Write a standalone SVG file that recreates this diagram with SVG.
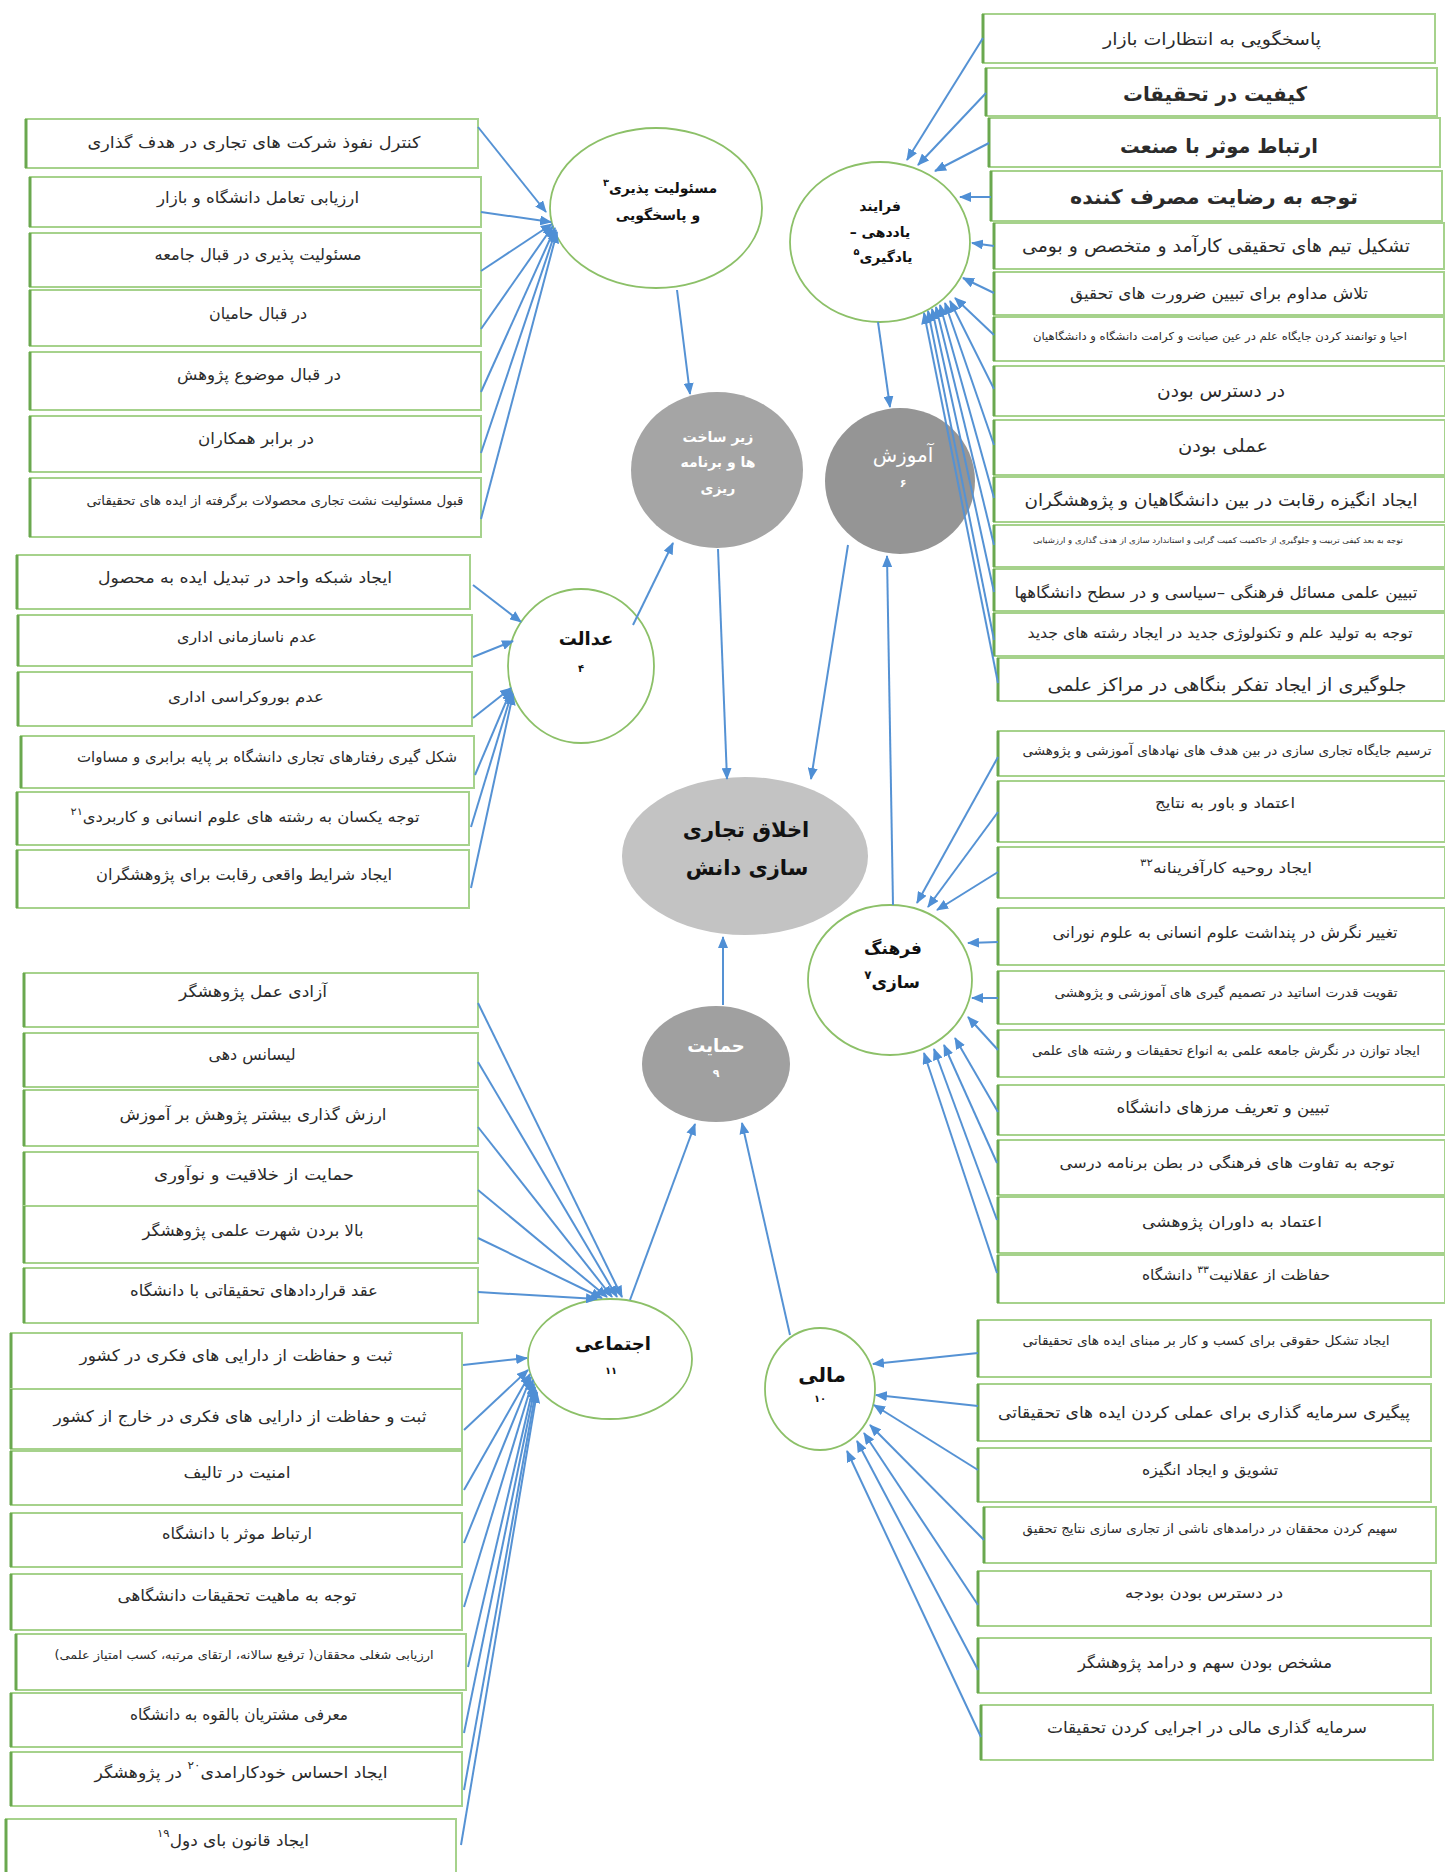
<svg xmlns="http://www.w3.org/2000/svg" width="1445" height="1872" viewBox="0 0 1445 1872">
<defs>
<marker id="ah" markerUnits="userSpaceOnUse" markerWidth="12" markerHeight="10" refX="11" refY="5" orient="auto"><path d="M0,0 L12,5 L0,10 z" fill="#4f8fd5"/></marker>
<style>
.box{fill:#fff;stroke:#a6d28c;stroke-width:2}
.lb{stroke:#6aa84f;stroke-width:3}
.t{font-family:"DejaVu Sans",sans-serif;fill:#2b2b2b;text-anchor:middle;dominant-baseline:central;direction:rtl}
.n{font-family:"DejaVu Sans",sans-serif;fill:#111;text-anchor:middle;dominant-baseline:central;direction:rtl;font-weight:bold}
.w{fill:#fff}
.wc{fill:#fff;stroke:#8cc068;stroke-width:1.8}
.sup{font-size:70%;baseline-shift:super}
#conn line{stroke:#5592d4;stroke-width:2;marker-end:url(#ah)}
</style>
</defs>
<rect width="1445" height="1872" fill="#fff"/>

<!-- left top group -->
<g id="b1"><rect class="box" x="26" y="119" width="452" height="49"/><line class="lb" x1="26" y1="119" x2="26" y2="168"/><text class="t" x="254" y="142" font-size="16" textLength="333" lengthAdjust="spacingAndGlyphs">کنترل نفوذ شرکت های تجاری در هدف گذاری</text></g>
<g id="b2"><rect class="box" x="30" y="177" width="451" height="50"/><line class="lb" x1="30" y1="177" x2="30" y2="227"/><text class="t" x="258" y="197" font-size="16" textLength="202" lengthAdjust="spacingAndGlyphs">ارزیابی تعامل دانشگاه و بازار</text></g>
<g id="b3"><rect class="box" x="30" y="233" width="451" height="54"/><line class="lb" x1="30" y1="233" x2="30" y2="287"/><text class="t" x="258" y="254" font-size="16" textLength="207" lengthAdjust="spacingAndGlyphs">مسئولیت پذیری در قبال جامعه</text></g>
<g id="b4"><rect class="box" x="30" y="290" width="451" height="56"/><line class="lb" x1="30" y1="290" x2="30" y2="346"/><text class="t" x="258" y="313" font-size="16" textLength="98" lengthAdjust="spacingAndGlyphs">در قبال حامیان</text></g>
<g id="b5"><rect class="box" x="30" y="352" width="451" height="58"/><line class="lb" x1="30" y1="352" x2="30" y2="410"/><text class="t" x="259" y="374" font-size="16" textLength="164" lengthAdjust="spacingAndGlyphs">در قبال موضوع پژوهش</text></g>
<g id="b6"><rect class="box" x="30" y="416" width="451" height="56"/><line class="lb" x1="30" y1="416" x2="30" y2="472"/><text class="t" x="256" y="438" font-size="16" textLength="116" lengthAdjust="spacingAndGlyphs">در برابر همکاران</text></g>
<g id="b7"><rect class="box" x="30" y="478" width="451" height="59"/><line class="lb" x1="30" y1="478" x2="30" y2="537"/><text class="t" x="275" y="500" font-size="13" textLength="377" lengthAdjust="spacingAndGlyphs">قبول مسئولیت نشت تجاری محصولات برگرفته از ایده های تحقیقاتی</text></g>

<!-- left middle group -->
<g id="j1"><rect class="box" x="17" y="555" width="453" height="54"/><line class="lb" x1="17" y1="555" x2="17" y2="609"/><text class="t" x="245" y="577" font-size="16" textLength="294" lengthAdjust="spacingAndGlyphs">ایجاد شبکه واحد در تبدیل ایده به محصول</text></g>
<g id="j2"><rect class="box" x="18" y="615" width="454" height="51"/><line class="lb" x1="18" y1="615" x2="18" y2="666"/><text class="t" x="247" y="637" font-size="15" textLength="140" lengthAdjust="spacingAndGlyphs">عدم ناسازمانی اداری</text></g>
<g id="j3"><rect class="box" x="18" y="672" width="454" height="54"/><line class="lb" x1="18" y1="672" x2="18" y2="726"/><text class="t" x="246" y="697" font-size="15" textLength="156" lengthAdjust="spacingAndGlyphs">عدم بوروکراسی اداری</text></g>
<g id="j4"><rect class="box" x="21" y="736" width="453" height="52"/><line class="lb" x1="21" y1="736" x2="21" y2="788"/><text class="t" x="267" y="757" font-size="15" textLength="380" lengthAdjust="spacingAndGlyphs">شکل گیری رفتارهای تجاری دانشگاه بر پایه برابری و مساوات</text></g>
<g id="j5"><rect class="box" x="17" y="792" width="452" height="53"/><line class="lb" x1="17" y1="792" x2="17" y2="845"/><text class="t" x="245" y="817" font-size="15" textLength="349" lengthAdjust="spacingAndGlyphs">توجه یکسان به رشته های علوم انسانی و کاربردی<tspan class="sup">۲۱</tspan></text></g>
<g id="j6"><rect class="box" x="17" y="850" width="452" height="58"/><line class="lb" x1="17" y1="850" x2="17" y2="908"/><text class="t" x="244" y="874" font-size="16" textLength="296" lengthAdjust="spacingAndGlyphs">ایجاد شرایط واقعی رقابت برای پژوهشگران</text></g>

<!-- left bottom group -->
<g id="s1"><rect class="box" x="24" y="973" width="454" height="54"/><line class="lb" x1="24" y1="973" x2="24" y2="1027"/><text class="t" x="253" y="991" font-size="16" textLength="148" lengthAdjust="spacingAndGlyphs">آزادی عمل پژوهشگر</text></g>
<g id="s2"><rect class="box" x="24" y="1033" width="454" height="54"/><line class="lb" x1="24" y1="1033" x2="24" y2="1087"/><text class="t" x="252" y="1054" font-size="16" textLength="87" lengthAdjust="spacingAndGlyphs">لیسانس دهی</text></g>
<g id="s3"><rect class="box" x="24" y="1090" width="454" height="56"/><line class="lb" x1="24" y1="1090" x2="24" y2="1146"/><text class="t" x="253" y="1114" font-size="16" textLength="267" lengthAdjust="spacingAndGlyphs">ارزش گذاری بیشتر پژوهش بر آموزش</text></g>
<g id="s4"><rect class="box" x="24" y="1152" width="454" height="54"/><line class="lb" x1="24" y1="1152" x2="24" y2="1206"/><text class="t" x="254" y="1174" font-size="16" textLength="200" lengthAdjust="spacingAndGlyphs">حمایت از خلاقیت و نوآوری</text></g>
<g id="s5"><rect class="box" x="24" y="1206" width="454" height="57"/><line class="lb" x1="24" y1="1206" x2="24" y2="1263"/><text class="t" x="253" y="1230" font-size="16" textLength="221" lengthAdjust="spacingAndGlyphs">بالا بردن شهرت علمی پژوهشگر</text></g>
<g id="s6"><rect class="box" x="24" y="1268" width="454" height="55"/><line class="lb" x1="24" y1="1268" x2="24" y2="1323"/><text class="t" x="254" y="1290" font-size="16" textLength="248" lengthAdjust="spacingAndGlyphs">عقد قراردادهای تحقیقاتی با دانشگاه</text></g>
<g id="s7"><rect class="box" x="11" y="1333" width="451" height="56"/><line class="lb" x1="11" y1="1333" x2="11" y2="1389"/><text class="t" x="236" y="1355" font-size="16" textLength="313" lengthAdjust="spacingAndGlyphs">ثبت و حفاظت از دارایی های فکری در کشور</text></g>
<g id="s8"><rect class="box" x="11" y="1389" width="451" height="60"/><line class="lb" x1="11" y1="1389" x2="11" y2="1449"/><text class="t" x="240" y="1416" font-size="16" textLength="373" lengthAdjust="spacingAndGlyphs">ثبت و حفاظت از دارایی های فکری در خارج از کشور</text></g>
<g id="s9"><rect class="box" x="11" y="1451" width="451" height="54"/><line class="lb" x1="11" y1="1451" x2="11" y2="1505"/><text class="t" x="237" y="1472" font-size="16" textLength="107" lengthAdjust="spacingAndGlyphs">امنیت در تالیف</text></g>
<g id="s10"><rect class="box" x="11" y="1513" width="451" height="54"/><line class="lb" x1="11" y1="1513" x2="11" y2="1567"/><text class="t" x="237" y="1533" font-size="16" textLength="150" lengthAdjust="spacingAndGlyphs">ارتباط موثر با دانشگاه</text></g>
<g id="s11"><rect class="box" x="11" y="1574" width="451" height="56"/><line class="lb" x1="11" y1="1574" x2="11" y2="1630"/><text class="t" x="237" y="1595" font-size="16" textLength="239" lengthAdjust="spacingAndGlyphs">توجه به ماهیت تحقیقات دانشگاهی</text></g>
<g id="s12"><rect class="box" x="16" y="1634" width="450" height="56"/><line class="lb" x1="16" y1="1634" x2="16" y2="1690"/><text class="t" x="244" y="1655" font-size="12" textLength="379" lengthAdjust="spacingAndGlyphs">ارزیابی شغلی محققان( ترفیع سالانه، ارتقای مرتبه، کسب امتیاز علمی)</text></g>
<g id="s13"><rect class="box" x="11" y="1693" width="451" height="54"/><line class="lb" x1="11" y1="1693" x2="11" y2="1747"/><text class="t" x="239" y="1714" font-size="16" textLength="218" lengthAdjust="spacingAndGlyphs">معرفی مشتریان بالقوه به دانشگاه</text></g>
<g id="s14"><rect class="box" x="11" y="1752" width="451" height="54"/><line class="lb" x1="11" y1="1752" x2="11" y2="1806"/><text class="t" x="241" y="1772" font-size="16" textLength="293" lengthAdjust="spacingAndGlyphs">ایجاد احساس خودکارامدی<tspan class="sup">۲۰</tspan> در پژوهشگر</text></g>
<g id="s15"><rect class="box" x="6" y="1819" width="450" height="60"/><line class="lb" x1="6" y1="1819" x2="6" y2="1872"/><text class="t" x="233" y="1840" font-size="16" textLength="152" lengthAdjust="spacingAndGlyphs">ایجاد قانون بای دول<tspan class="sup">۱۹</tspan></text></g>

<!-- right top group -->
<g id="r1"><rect class="box" x="983" y="14" width="452" height="49"/><line class="lb" x1="983" y1="14" x2="983" y2="63"/><text class="t" x="1212" y="39" font-size="17" textLength="218" lengthAdjust="spacingAndGlyphs">پاسخگویی به انتظارات بازار</text></g>
<g id="r2"><rect class="box" x="986" y="68" width="451" height="48"/><line class="lb" x1="986" y1="68" x2="986" y2="116"/><text class="t" x="1215" y="94" font-size="20" font-weight="bold" textLength="184" lengthAdjust="spacingAndGlyphs">کیفیت در تحقیقات</text></g>
<g id="r3"><rect class="box" x="989" y="118" width="451" height="49"/><line class="lb" x1="989" y1="118" x2="989" y2="167"/><text class="t" x="1219" y="146" font-size="20" font-weight="bold" textLength="198" lengthAdjust="spacingAndGlyphs">ارتباط موثر با صنعت</text></g>
<g id="r4"><rect class="box" x="991" y="171" width="451" height="50"/><line class="lb" x1="991" y1="171" x2="991" y2="221"/><text class="t" x="1214" y="197" font-size="20" font-weight="bold" textLength="288" lengthAdjust="spacingAndGlyphs">توجه به رضایت مصرف کننده</text></g>
<g id="r5"><rect class="box" x="994" y="223" width="450" height="46"/><line class="lb" x1="994" y1="223" x2="994" y2="269"/><text class="t" x="1216" y="245" font-size="18" textLength="388" lengthAdjust="spacingAndGlyphs">تشکیل تیم های تحقیقی کارآمد و متخصص و بومی</text></g>
<g id="r6"><rect class="box" x="994" y="272" width="450" height="43"/><line class="lb" x1="994" y1="272" x2="994" y2="315"/><text class="t" x="1219" y="293" font-size="16" textLength="298" lengthAdjust="spacingAndGlyphs">تلاش مداوم برای تبیین ضرورت های تحقیق</text></g>
<g id="r7"><rect class="box" x="994" y="317" width="450" height="44"/><line class="lb" x1="994" y1="317" x2="994" y2="361"/><text class="t" x="1220" y="336" font-size="11" textLength="374" lengthAdjust="spacingAndGlyphs">احیا و توانمند کردن جایگاه علم در عین صیانت و کرامت دانشگاه و دانشگاهیان</text></g>
<g id="r8"><rect class="box" x="994" y="366" width="451" height="50"/><line class="lb" x1="994" y1="366" x2="994" y2="416"/><text class="t" x="1221" y="390" font-size="18" textLength="128" lengthAdjust="spacingAndGlyphs">در دسترس بودن</text></g>
<g id="r9"><rect class="box" x="994" y="420" width="451" height="55"/><line class="lb" x1="994" y1="420" x2="994" y2="475"/><text class="t" x="1223" y="445" font-size="18" textLength="90" lengthAdjust="spacingAndGlyphs">عملی بودن</text></g>
<g id="r10"><rect class="box" x="994" y="477" width="451" height="45"/><line class="lb" x1="994" y1="477" x2="994" y2="522"/><text class="t" x="1221" y="500" font-size="17" textLength="393" lengthAdjust="spacingAndGlyphs">ایجاد انگیزه رقابت در بین دانشگاهیان و پژوهشگران</text></g>
<g id="r11"><rect class="box" x="994" y="525" width="451" height="42"/><line class="lb" x1="994" y1="525" x2="994" y2="567"/><text class="t" x="1218" y="540" font-size="8" textLength="370" lengthAdjust="spacingAndGlyphs">توجه به بعد کیفی تربیت و جلوگیری از حاکمیت کمیت گرایی و استاندارد سازی از هدف گذاری و ارزشیابی</text></g>
<g id="r12"><rect class="box" x="994" y="569" width="451" height="42"/><line class="lb" x1="994" y1="569" x2="994" y2="611"/><text class="t" x="1216" y="592" font-size="16" textLength="403" lengthAdjust="spacingAndGlyphs">تبیین علمی مسائل فرهنگی –سیاسی و در سطح دانشگاهها</text></g>
<g id="r13"><rect class="box" x="994" y="613" width="451" height="43"/><line class="lb" x1="994" y1="613" x2="994" y2="656"/><text class="t" x="1220" y="633" font-size="15" textLength="385" lengthAdjust="spacingAndGlyphs">توجه به تولید علم و تکنولوژی جدید در ایجاد رشته های جدید</text></g>
<g id="r14"><rect class="box" x="998" y="658" width="447" height="43"/><line class="lb" x1="998" y1="658" x2="998" y2="701"/><text class="t" x="1227" y="684" font-size="18" textLength="359" lengthAdjust="spacingAndGlyphs">جلوگیری از ایجاد تفکر بنگاهی در مراکز علمی</text></g>

<!-- right middle group -->
<g id="m1"><rect class="box" x="998" y="731" width="447" height="45"/><line class="lb" x1="998" y1="731" x2="998" y2="776"/><text class="t" x="1227" y="750" font-size="13" textLength="409" lengthAdjust="spacingAndGlyphs">ترسیم جایگاه تجاری سازی در بین هدف های نهادهای آموزشی و پژوهشی</text></g>
<g id="m2"><rect class="box" x="998" y="781" width="447" height="61"/><line class="lb" x1="998" y1="781" x2="998" y2="842"/><text class="t" x="1225" y="803" font-size="15" textLength="140" lengthAdjust="spacingAndGlyphs">اعتماد و باور به نتایج</text></g>
<g id="m3"><rect class="box" x="998" y="847" width="447" height="51"/><line class="lb" x1="998" y1="847" x2="998" y2="898"/><text class="t" x="1226" y="868" font-size="15" textLength="172" lengthAdjust="spacingAndGlyphs">ایجاد روحیه کارآفرینانه<tspan class="sup">۳۲</tspan></text></g>
<g id="m4"><rect class="box" x="998" y="908" width="447" height="57"/><line class="lb" x1="998" y1="908" x2="998" y2="965"/><text class="t" x="1225" y="932" font-size="16" textLength="345" lengthAdjust="spacingAndGlyphs">تغییر نگرش در پنداشت علوم انسانی به علوم نورانی</text></g>
<g id="m5"><rect class="box" x="998" y="971" width="447" height="53"/><line class="lb" x1="998" y1="971" x2="998" y2="1024"/><text class="t" x="1226" y="992" font-size="13" textLength="343" lengthAdjust="spacingAndGlyphs">تقویت قدرت اساتید در تصمیم گیری های آموزشی و پژوهشی</text></g>
<g id="m6"><rect class="box" x="998" y="1030" width="447" height="47"/><line class="lb" x1="998" y1="1030" x2="998" y2="1077"/><text class="t" x="1226" y="1050" font-size="13" textLength="388" lengthAdjust="spacingAndGlyphs">ایجاد توازن در نگرش جامعه علمی به انواع تحقیقات و رشته های علمی</text></g>
<g id="m7"><rect class="box" x="998" y="1085" width="447" height="50"/><line class="lb" x1="998" y1="1085" x2="998" y2="1135"/><text class="t" x="1223" y="1107" font-size="16" textLength="213" lengthAdjust="spacingAndGlyphs">تبیین و تعریف مرزهای دانشگاه</text></g>
<g id="m8"><rect class="box" x="998" y="1140" width="447" height="55"/><line class="lb" x1="998" y1="1140" x2="998" y2="1195"/><text class="t" x="1227" y="1163" font-size="15" textLength="335" lengthAdjust="spacingAndGlyphs">توجه به تفاوت های فرهنگی در بطن برنامه درسی</text></g>
<g id="m9"><rect class="box" x="998" y="1197" width="447" height="56"/><line class="lb" x1="998" y1="1197" x2="998" y2="1253"/><text class="t" x="1232" y="1222" font-size="15" textLength="180" lengthAdjust="spacingAndGlyphs">اعتماد به داوران پژوهشی</text></g>
<g id="m10"><rect class="box" x="998" y="1255" width="447" height="48"/><line class="lb" x1="998" y1="1255" x2="998" y2="1303"/><text class="t" x="1236" y="1275" font-size="15" textLength="188" lengthAdjust="spacingAndGlyphs">حفاظت از عقلانیت<tspan class="sup">۳۳</tspan> دانشگاه</text></g>

<!-- right bottom group -->
<g id="f1"><rect class="box" x="978" y="1320" width="453" height="57"/><line class="lb" x1="978" y1="1320" x2="978" y2="1377"/><text class="t" x="1206" y="1340" font-size="13" textLength="367" lengthAdjust="spacingAndGlyphs">ایجاد تشکل حقوقی برای کسب و کار بر مبنای ایده های تحقیقاتی</text></g>
<g id="f2"><rect class="box" x="978" y="1384" width="453" height="57"/><line class="lb" x1="978" y1="1384" x2="978" y2="1441"/><text class="t" x="1204" y="1412" font-size="16" textLength="412" lengthAdjust="spacingAndGlyphs">پیگیری سرمایه گذاری برای عملی کردن ایده های تحقیقاتی</text></g>
<g id="f3"><rect class="box" x="978" y="1448" width="453" height="54"/><line class="lb" x1="978" y1="1448" x2="978" y2="1502"/><text class="t" x="1210" y="1470" font-size="15" textLength="136" lengthAdjust="spacingAndGlyphs">تشویق و ایجاد انگیزه</text></g>
<g id="f4"><rect class="box" x="984" y="1507" width="452" height="56"/><line class="lb" x1="984" y1="1507" x2="984" y2="1563"/><text class="t" x="1210" y="1528" font-size="13" textLength="375" lengthAdjust="spacingAndGlyphs">سهیم کردن محققان در درامدهای ناشی از تجاری سازی نتایج تحقیق</text></g>
<g id="f5"><rect class="box" x="978" y="1571" width="453" height="55"/><line class="lb" x1="978" y1="1571" x2="978" y2="1626"/><text class="t" x="1204" y="1593" font-size="15" textLength="158" lengthAdjust="spacingAndGlyphs">در دسترس بودن بودجه</text></g>
<g id="f6"><rect class="box" x="978" y="1638" width="453" height="55"/><line class="lb" x1="978" y1="1638" x2="978" y2="1693"/><text class="t" x="1205" y="1662" font-size="16" textLength="254" lengthAdjust="spacingAndGlyphs">مشخص بودن سهم و درامد پژوهشگر</text></g>
<g id="f7"><rect class="box" x="981" y="1705" width="452" height="55"/><line class="lb" x1="981" y1="1705" x2="981" y2="1760"/><text class="t" x="1207" y="1727" font-size="16" textLength="320" lengthAdjust="spacingAndGlyphs">سرمایه گذاری مالی در اجرایی کردن تحقیقات</text></g>

<!-- central nodes -->
<g id="n-masouliat"><ellipse class="wc" cx="656" cy="208" rx="106" ry="80"/><text class="n" x="660" y="188" font-size="14">مسئولیت پذیری<tspan class="sup">۳</tspan></text><text class="n" x="658" y="215" font-size="14">و پاسخگویی</text></g>
<g id="n-farayand"><ellipse class="wc" cx="880" cy="242" rx="90" ry="80"/><text class="n" x="880" y="206" font-size="14">فرایند</text><text class="n" x="880" y="232" font-size="14">یاددهی –</text><text class="n" x="883" y="257" font-size="14">یادگیری<tspan class="sup">۵</tspan></text></g>
<g id="n-zirsakht"><ellipse cx="717" cy="470" rx="86" ry="78" fill="#a5a5a5"/><text class="n w" x="718" y="437" font-size="14">زیر ساخت</text><text class="n w" x="718" y="462" font-size="14">ها و برنامه</text><text class="n w" x="718" y="488" font-size="14">ریزی</text></g>
<g id="n-amoozesh"><ellipse cx="900" cy="481" rx="75" ry="73" fill="#959595"/><text class="n w" x="903" y="455" font-size="20" style="font-weight:normal">آموزش</text><text class="n w" x="903" y="483" font-size="11">۶</text></g>
<g id="n-edalat"><ellipse class="wc" cx="581" cy="666" rx="73" ry="77"/><text class="n" x="586" y="638" font-size="18">عدالت</text><text class="n" x="581" y="668" font-size="10">۴</text></g>
<g id="n-center"><ellipse cx="745" cy="856" rx="123" ry="79" fill="#c3c3c3"/><text class="n" x="746" y="830" font-size="21" fill="#222">اخلاق تجاری</text><text class="n" x="747" y="868" font-size="21" fill="#222">سازی دانش</text></g>
<g id="n-farhang"><ellipse class="wc" cx="890" cy="980" rx="82" ry="75"/><text class="n" x="893" y="948" font-size="17">فرهنگ</text><text class="n" x="892" y="982" font-size="17">سازی<tspan class="sup">۷</tspan></text></g>
<g id="n-hemayat"><ellipse cx="716" cy="1064" rx="74" ry="58" fill="#a0a0a0"/><text class="n w" x="716" y="1045" font-size="18">حمایت</text><text class="n w" x="716" y="1073" font-size="11">۹</text></g>
<g id="n-ejtemai"><ellipse class="wc" cx="610" cy="1359" rx="82" ry="60"/><text class="n" x="613" y="1343" font-size="18">اجتماعی</text><text class="n" x="611" y="1370" font-size="10">۱۱</text></g>
<g id="n-mali"><ellipse class="wc" cx="820" cy="1389" rx="55" ry="61"/><text class="n" x="822" y="1375" font-size="20">مالی</text><text class="n" x="820" y="1398" font-size="10">۱۰</text></g>

<g id="conn">
<line x1="478" y1="127" x2="546" y2="212"/>
<line x1="481" y1="212" x2="551" y2="222"/>
<line x1="481" y1="271" x2="552" y2="224"/>
<line x1="481" y1="329" x2="553" y2="226"/>
<line x1="481" y1="392" x2="555" y2="228"/>
<line x1="481" y1="453" x2="556" y2="230"/>
<line x1="481" y1="519" x2="557" y2="232"/>
<line x1="677" y1="290" x2="690" y2="394"/>
<line x1="983" y1="38" x2="907" y2="160"/>
<line x1="986" y1="93" x2="918" y2="165"/>
<line x1="989" y1="143" x2="935" y2="171"/>
<line x1="991" y1="197" x2="960" y2="197"/>
<line x1="994" y1="246" x2="972" y2="243"/>
<line x1="994" y1="293" x2="963" y2="278"/>
<line x1="994" y1="335" x2="955" y2="298"/>
<line x1="994" y1="389" x2="950" y2="301"/>
<line x1="994" y1="445" x2="945" y2="303"/>
<line x1="994" y1="498" x2="940" y2="305"/>
<line x1="994" y1="545" x2="936" y2="307"/>
<line x1="994" y1="592" x2="932" y2="309"/>
<line x1="994" y1="640" x2="928" y2="311"/>
<line x1="998" y1="683" x2="924" y2="313"/>
<line x1="878" y1="322" x2="890" y2="407"/>
<line x1="848" y1="545" x2="811" y2="779"/>
<line x1="893" y1="905" x2="887" y2="556"/>
<line x1="718" y1="549" x2="727" y2="779"/>
<line x1="633" y1="625" x2="673" y2="543"/>
<line x1="723" y1="1005" x2="723" y2="937"/>
<line x1="473" y1="585" x2="521" y2="622"/>
<line x1="473" y1="657" x2="513" y2="641"/>
<line x1="473" y1="718" x2="511" y2="688"/>
<line x1="475" y1="775" x2="511" y2="690"/>
<line x1="471" y1="827" x2="512" y2="692"/>
<line x1="471" y1="888" x2="513" y2="694"/>
<line x1="478" y1="1003" x2="622" y2="1297"/>
<line x1="478" y1="1062" x2="617" y2="1297"/>
<line x1="478" y1="1127" x2="612" y2="1297"/>
<line x1="478" y1="1190" x2="607" y2="1297"/>
<line x1="478" y1="1238" x2="602" y2="1298"/>
<line x1="478" y1="1292" x2="597" y2="1299"/>
<line x1="630" y1="1300" x2="695" y2="1124"/>
<line x1="463" y1="1365" x2="527" y2="1358"/>
<line x1="464" y1="1430" x2="528" y2="1370"/>
<line x1="464" y1="1490" x2="530" y2="1374"/>
<line x1="464" y1="1543" x2="531" y2="1377"/>
<line x1="464" y1="1607" x2="533" y2="1380"/>
<line x1="468" y1="1667" x2="534" y2="1384"/>
<line x1="464" y1="1733" x2="535" y2="1387"/>
<line x1="464" y1="1790" x2="536" y2="1390"/>
<line x1="461" y1="1845" x2="537" y2="1392"/>
<line x1="978" y1="1353" x2="873" y2="1364"/>
<line x1="978" y1="1406" x2="876" y2="1395"/>
<line x1="978" y1="1470" x2="874" y2="1405"/>
<line x1="984" y1="1540" x2="870" y2="1425"/>
<line x1="978" y1="1605" x2="864" y2="1433"/>
<line x1="978" y1="1670" x2="857" y2="1441"/>
<line x1="981" y1="1737" x2="847" y2="1451"/>
<line x1="790" y1="1335" x2="742" y2="1123"/>
<line x1="998" y1="757" x2="917" y2="903"/>
<line x1="998" y1="812" x2="928" y2="907"/>
<line x1="998" y1="872" x2="937" y2="910"/>
<line x1="998" y1="942" x2="968" y2="943"/>
<line x1="998" y1="998" x2="972" y2="998"/>
<line x1="998" y1="1050" x2="968" y2="1017"/>
<line x1="998" y1="1112" x2="955" y2="1038"/>
<line x1="997" y1="1163" x2="944" y2="1045"/>
<line x1="997" y1="1220" x2="934" y2="1049"/>
<line x1="997" y1="1273" x2="924" y2="1053"/>
</g>
</svg>
